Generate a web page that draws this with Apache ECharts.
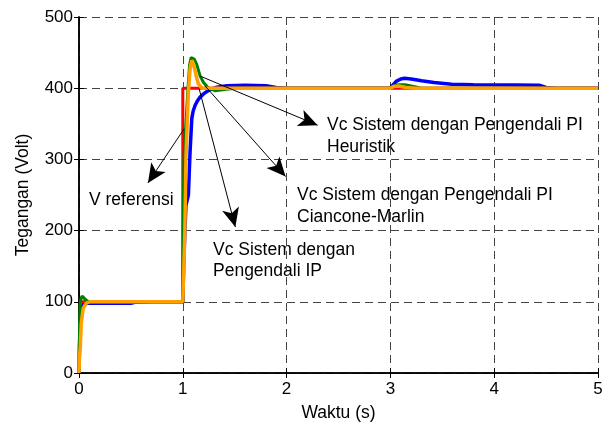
<!DOCTYPE html>
<html><head><meta charset="utf-8">
<script src="https://cdn.jsdelivr.net/npm/echarts@6/dist/echarts.min.js"></script>
<style>html,body{margin:0;padding:0;background:#fff}#c{width:608px;height:427px}</style>
</head><body><div id="c"></div>
<script>
// ---- data (time in s, voltage in V) ----
const refData = [[0,100],[1.0,100],[1.0,400],[5,400]];
const ipData = [[0,0],[0.005,40],[0.012,70],[0.02,85],[0.03,93],[0.045,97],[0.08,98],[0.5,98],[0.55,99.5],[0.7,100],
  [1.0,100],[1.01,160],[1.03,235],[1.054,250],[1.07,311],[1.087,358],[1.1,368],[1.119,376],[1.14,382],[1.167,387.5],
  [1.2,392],[1.232,395.3],[1.28,399],[1.329,401.4],[1.426,403.5],[1.6,404],[1.8,403.5],[1.9,401],[2.0,400],[3.0,400],
  [3.02,404],[3.06,410],[3.1,413],[3.135,414],[3.2,413],[3.3,410.5],[3.42,408],[3.59,405.5],[3.8,405],[4.2,404.5],
  [4.44,404],[4.5,401],[4.6,400],[5,400]];
const cmData = [[0,0],[0.005,60],[0.01,95],[0.02,105],[0.03,108],[0.045,106],[0.07,102],[0.1,100],[1.0,100],
  [1.003,200],[1.01,300],[1.03,350],[1.05,400],[1.065,432],[1.08,443],[1.092,445],[1.11,441],[1.135,433],[1.167,417],
  [1.2,408],[1.235,402],[1.264,399],[1.31,396.5],[1.4,398],[1.5,400],[3.0,400],[3.03,403],[3.08,405],[3.14,405],
  [3.2,403],[3.3,400],[5,400]];
const heurData = [[0,0],[0.004,20],[0.013,38],[0.022,70],[0.04,91],[0.07,98],[0.1,100],[1.0,100],[1.012,100],
  [1.02,200],[1.03,300],[1.04,343],[1.054,394],[1.07,427],[1.087,439],[1.1,435],[1.109,431],[1.128,417.5],[1.15,406],
  [1.184,400],[3.0,400],[3.03,402.5],[3.08,403],[3.15,401],[3.25,400],[5,400]];
// annotation arrows: [start, tip] in data coordinates
const arrowHeur = [[1.167,417],[2.299,348]];
const arrowCM   = [[1.216,403],[1.990,276]];
const arrowIP   = [[1.158,399],[1.506,205]];
const arrowRef  = [[1.013,343],[0.664,267]];
const xName = 'Waktu (s)';
const yName = 'Tegangan (Volt)';

const FONT = "'Liberation Sans', Arial, sans-serif";
const chart = echarts.init(document.getElementById('c'));
const split = {show:true, lineStyle:{color:'#444', width:1, type:[8,5]}};
const axLine = {show:true, lineStyle:{color:'#000', width:1.5}};
function mk(a){ return [{coord:a[0], symbol:'none'},{coord:a[1], symbol:'arrow', symbolSize:[13,19]}]; }
chart.setOption({
  animation:false,
  backgroundColor:'#fff',
  grid:{left:79, right:10, top:17, bottom:50},
  xAxis:[{type:'value', min:0, max:5, interval:1, position:'bottom',
    name:xName, nameLocation:'middle', nameGap:31,
    nameTextStyle:{fontFamily:FONT, fontSize:17.5, color:'#000'},
    axisLine:axLine, axisTick:{show:true, inside:true, length:5, lineStyle:{color:'#000'}},
    axisLabel:{fontFamily:FONT, fontSize:17, color:'#000', margin:8},
    splitLine:split},
   {type:'value', min:0, max:5, interval:1, position:'top',
    axisLine:axLine, axisTick:{show:true, inside:true, length:5, lineStyle:{color:'#000'}},
    axisLabel:{show:false}, splitLine:{show:false}}],
  yAxis:[{type:'value', min:0, max:500, interval:100, position:'left',
    name:yName, nameLocation:'middle', nameGap:47,
    nameTextStyle:{fontFamily:FONT, fontSize:17.5, color:'#000'},
    axisLine:axLine, axisTick:{show:true, inside:true, length:5, lineStyle:{color:'#000'}},
    axisLabel:{fontFamily:FONT, fontSize:17, color:'#000', margin:6},
    splitLine:split},
   {type:'value', min:0, max:500, interval:100, position:'right',
    axisLine:axLine, axisTick:{show:true, inside:true, length:5, lineStyle:{color:'#000'}},
    axisLabel:{show:false}, splitLine:{show:false}}],
  series:[
    {type:'line', data:ipData, showSymbol:false, lineStyle:{color:'#0000ff', width:3.5}},
    {type:'line', data:refData, showSymbol:false, lineStyle:{color:'#ff0000', width:3}},
    {type:'line', data:cmData, showSymbol:false, lineStyle:{color:'#008000', width:3}},
    {type:'line', data:heurData, showSymbol:false, lineStyle:{color:'#ffa000', width:3.5},
     markLine:{silent:true, symbol:['none','arrow'], symbolSize:14, label:{show:false},
       itemStyle:{color:'#000'},
       lineStyle:{color:'#000', width:1, type:'solid'},
       emphasis:{disabled:true},
       data:[mk(arrowHeur), mk(arrowCM), mk(arrowIP), mk(arrowRef)]}}
  ],
  graphic:[
    {type:'text', x:327, y:114, style:{text:'Vc Sistem dengan Pengendali PI\nHeuristik', fontFamily:FONT, fontSize:17.5, fill:'#000', lineHeight:22, verticalAlign:'top'}},
    {type:'text', x:297, y:184, style:{text:'Vc Sistem dengan Pengendali PI\nCiancone-Marlin', fontFamily:FONT, fontSize:17.5, fill:'#000', lineHeight:22, verticalAlign:'top'}},
    {type:'text', x:213, y:240, style:{text:'Vc Sistem dengan\nPengendali IP', fontFamily:FONT, fontSize:17.5, fill:'#000', lineHeight:21, verticalAlign:'top'}},
    {type:'text', x:89, y:190, style:{text:'V referensi', fontFamily:FONT, fontSize:17.5, fill:'#000', lineHeight:21, verticalAlign:'top'}}
  ]
});
</script></body></html>
